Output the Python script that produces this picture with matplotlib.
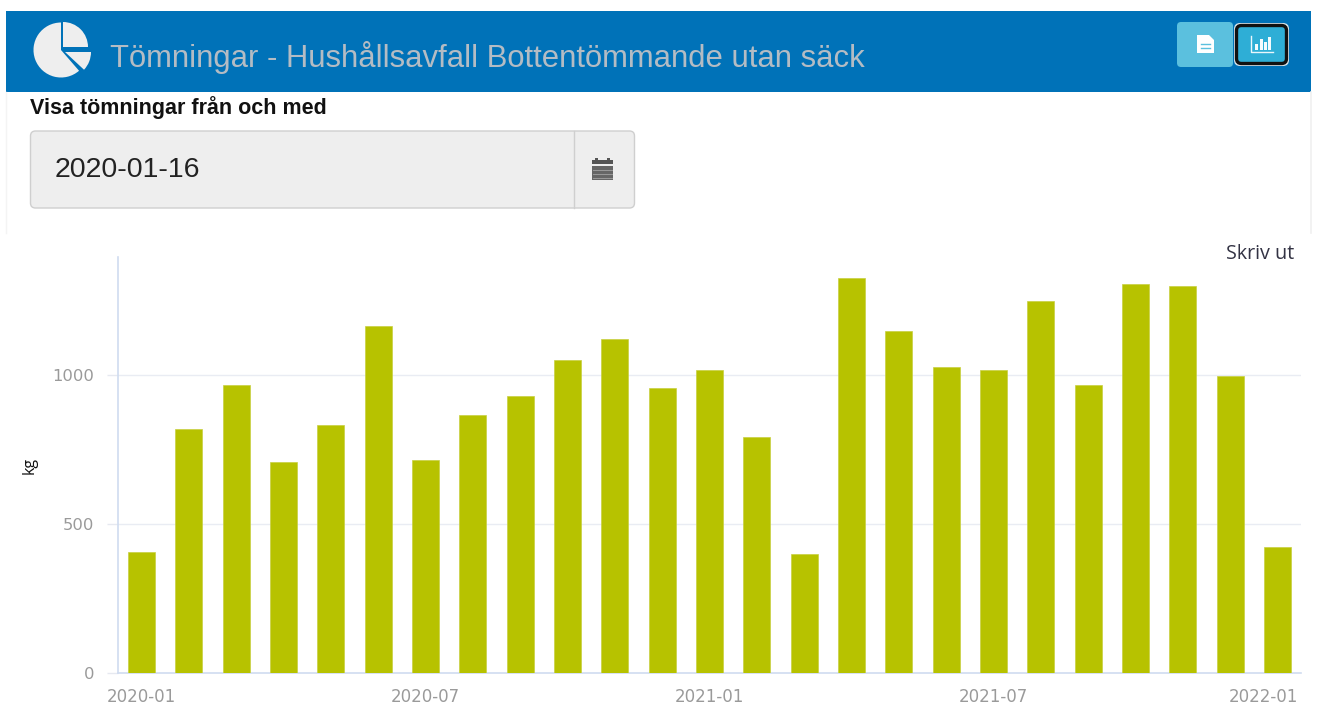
# -*- coding: utf-8 -*-
import numpy as np
from matplotlib import pyplot as plt
import matplotlib.patches as mpatches
from matplotlib.transforms import ScaledTranslation

months = ['2020-01', '2020-02', '2020-03', '2020-04', '2020-05', '2020-06', '2020-07',
          '2020-08', '2020-09', '2020-10', '2020-11', '2020-12', '2021-01', '2021-02',
          '2021-03', '2021-04', '2021-05', '2021-06', '2021-07', '2021-08', '2021-09',
          '2021-10', '2021-11', '2021-12', '2022-01']
weights = [406, 819, 966, 708, 832, 1164, 715, 866, 929, 1050, 1121, 956, 1017, 792,
           399, 1325, 1148, 1027, 1017, 1248, 966, 1305, 1299, 997, 423]
shown_months = ['2020-01', '2020-07', '2021-01', '2021-07', '2022-01']
y_ticks = [0, 500, 1000]
title = 'Tömningar - Hushållsavfall Bottentömmande utan säck'
date_label = 'Visa tömningar från och med'
date_value = '2020-01-16'

W, H = 1320, 707
fig = plt.figure(figsize=(W / 100, H / 100), dpi=100, facecolor='white')

# page furniture drawn in pixel coordinates
bg = fig.add_axes([0, 0, 1, 1])
bg.set_xlim(0, W)
bg.set_ylim(H, 0)
bg.axis('off')

bg.add_patch(mpatches.Rectangle((6, 11), 1305, 81, color='#0072b8', lw=0))
bg.plot([6, 6], [92, 233], color='#f4f4f4', lw=1)
bg.plot([1311, 1311], [92, 233], color='#f0f0f0', lw=1.2)

# pie icon
bg.add_patch(mpatches.Wedge((61, 50), 27.5, 49, 270, color='#eeeeee', lw=0))
bg.add_patch(mpatches.Wedge((63, 47), 25, 270, 360, color='#eeeeee', lw=0))
bg.add_patch(mpatches.Wedge((65, 52), 26, 0, 43, color='#eeeeee', lw=0))

bg.text(110, 57, title, family='Liberation Sans', fontsize=22.35, color='#b4bcc4',
        va='center', ha='left')
bg.text(30, 108, date_label, family='Liberation Sans', fontsize=15.5, color='#111111',
        fontweight='bold', va='center', ha='left')

# buttons
bg.add_patch(mpatches.FancyBboxPatch((1177, 22), 56, 45, boxstyle='round,pad=0,rounding_size=4',
                                     fc='#5bc0de', ec='none'))
bg.add_patch(mpatches.FancyBboxPatch((1234, 23), 55, 43, boxstyle='round,pad=0,rounding_size=6',
                                     fc='#d8e4ea', ec='none'))
bg.add_patch(mpatches.FancyBboxPatch((1236.5, 25.5), 50, 38, boxstyle='round,pad=0,rounding_size=5',
                                     fc='#2eaed6', ec='#111111', lw=2.4))
bg.add_patch(mpatches.Polygon([(1197, 35), (1209, 35), (1214, 40), (1214, 53), (1197, 53)],
                              color='white', lw=0))
bg.plot([1201, 1210], [43.5, 43.5], color='#5bc0de', lw=1)
bg.plot([1201, 1210], [47.5, 47.5], color='#5bc0de', lw=1)
bg.plot([1251, 1251, 1273], [36, 52, 52], color='#eaf6fb', lw=1)
for bx, by in zip([1255, 1259.5, 1264, 1268], [44, 39, 42, 37]):
    bg.add_patch(mpatches.Rectangle((bx, by), 3, 50 - by, color='#f4fbfd', lw=0))

# date input
bg.add_patch(mpatches.FancyBboxPatch((30.5, 131), 604, 77, boxstyle='round,pad=0,rounding_size=5',
                                     fc='#eeeeee', ec='#cfcfcf', lw=1))
bg.plot([573.5, 573.5], [131, 208], color='#cfcfcf', lw=1)
bg.text(55, 170, date_value, family='Liberation Sans', fontsize=20.5, color='#222222',
        va='center', ha='left')
# calendar icon
bg.add_patch(mpatches.Rectangle((592, 160), 21, 4, color='#555555', lw=0))
bg.add_patch(mpatches.Rectangle((595, 158), 3, 3, color='#555555', lw=0))
bg.add_patch(mpatches.Rectangle((607, 158), 3, 3, color='#555555', lw=0))
bg.add_patch(mpatches.Rectangle((592, 166), 21, 14, color='#666666', lw=0))
for gy in [170, 174, 177.5]:
    bg.plot([593, 612], [gy, gy], color='#9a9a9a', lw=0.7)

bg.text(1294, 254, 'Skriv ut', family='Open Sans', fontsize=14.2, color='#333344',
        va='center', ha='right')

# chart
ax = fig.add_axes([118 / W, 1 - 673 / H, (1301 - 118) / W, (673 - 257) / H])
ax.patch.set_alpha(0)
x = np.arange(len(months))
ax.bar(x, weights, width=0.57, color='#b7c200', edgecolor='#c8d040', linewidth=0.5, zorder=3)

ax.set_xlim(-0.5, len(months) - 0.5)
ax.set_ylim(0, 1396)
ax.set_yticks(y_ticks)
ax.set_yticklabels([str(v) for v in y_ticks], family='DejaVu Sans', fontsize=11.8, color='#9a9a9a')
ax.set_xticks([months.index(m) for m in shown_months])
ax.set_xticklabels(shown_months, family='DejaVu Sans', fontsize=12, color='#9a9a9a')
ax.tick_params(axis='x', length=0, pad=11)
ax.tick_params(axis='y', length=8, width=1, color='#e6e9f0', pad=9)
# last label is pushed back inside the plot
last = ax.get_xticklabels()[-1]
last.set_transform(last.get_transform() + ScaledTranslation(-14 / 100, 0, fig.dpi_scale_trans))
ax.grid(True, axis='y', color='#e9ecf3', lw=1, zorder=0)
for side in ['top', 'right']:
    ax.spines[side].set_visible(False)
for side in ['left', 'bottom']:
    ax.spines[side].set_color('#d0dcf0')
    ax.spines[side].set_linewidth(1.2)
ax.set_ylabel('kg', family='Open Sans', fontsize=11.5, color='#111111', labelpad=11)

fig.savefig('out.png', dpi=100)
